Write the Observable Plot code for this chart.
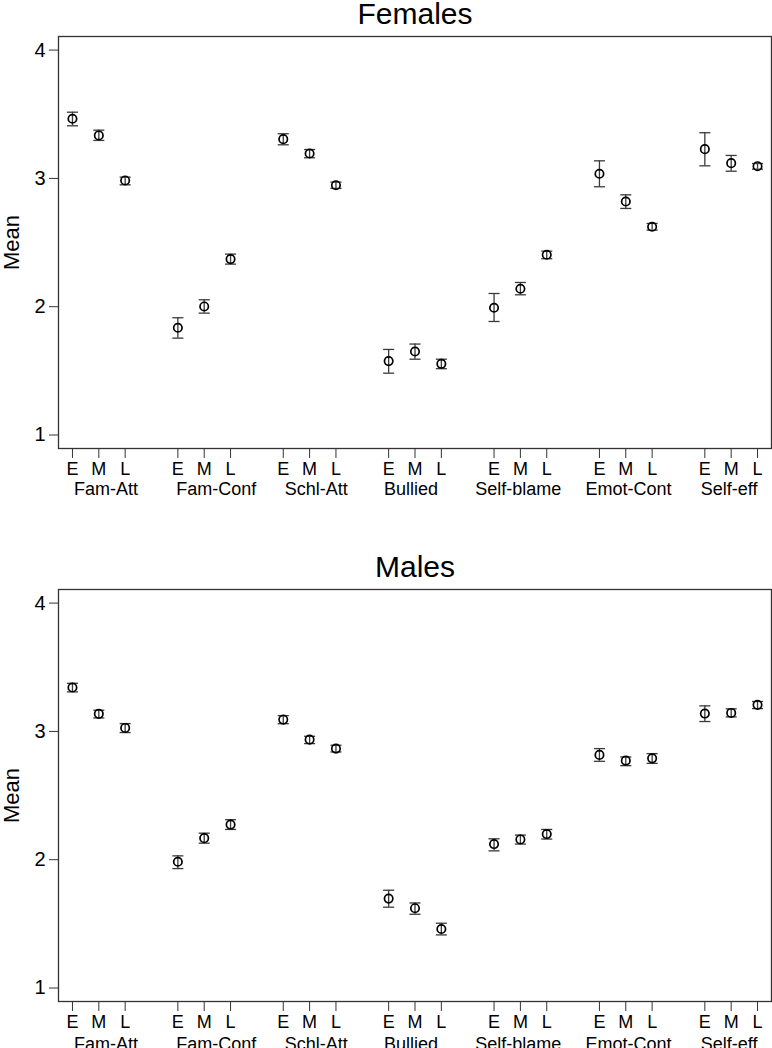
<!DOCTYPE html>
<html><head><meta charset="utf-8">
<script src="https://cdn.jsdelivr.net/npm/d3@7"></script>
<script src="https://cdn.jsdelivr.net/npm/@observablehq/plot@0.6"></script>
<style>
body{margin:0;background:#fff;font-family:"Liberation Sans",Arial,Helvetica,sans-serif;}
#chart{width:772px;height:1048px;overflow:hidden;}
#chart svg{display:block;overflow:visible;}
</style>
</head><body><div id="chart"></div>
<script>
const groups = ["Fam-Att","Fam-Conf","Schl-Att","Bullied","Self-blame","Emot-Cont","Self-eff"];
const stages = ["E","M","L"];
const yTicks = [1,2,3,4];

const femaleMean = [3.465,3.335,2.984, 1.836,2.002,2.371, 3.306,3.194,2.947, 1.576,1.651,1.555, 1.992,2.140,2.405, 3.036,2.820,2.623, 3.228,3.119,3.095];
const femaleLow  = [3.410,3.296,2.950, 1.755,1.950,2.332, 3.262,3.161,2.922, 1.482,1.591,1.517, 1.885,2.093,2.374, 2.935,2.766,2.597, 3.098,3.056,3.072];
const femaleHigh = [3.516,3.376,3.010, 1.914,2.054,2.410, 3.348,3.225,2.971, 1.667,1.709,1.591, 2.103,2.189,2.433, 3.137,2.872,2.649, 3.356,3.179,3.116];

const maleMean = [3.342,3.137,3.027, 1.984,2.168,2.274, 3.092,2.936,2.866, 1.697,1.622,1.460, 2.122,2.158,2.200, 2.817,2.772,2.790, 3.139,3.144,3.207];
const maleLow  = [3.308,3.105,2.991, 1.931,2.129,2.236, 3.060,2.905,2.840, 1.630,1.575,1.414, 2.069,2.122,2.161, 2.767,2.733,2.751, 3.077,3.113,3.178];
const maleHigh = [3.375,3.165,3.061, 2.030,2.207,2.312, 3.123,2.962,2.892, 1.762,1.663,1.505, 2.163,2.192,2.236, 2.866,2.801,2.827, 3.199,3.176,3.233];

// layout: small horizontal nudges of the group labels (in x units), as in the original
const groupLabelNudge = [0.27, 0.46, 0.25, -0.15, -0.08, 0.1, -0.08];

function rowsFor(mean, lo, hi) {
  const rows = [];
  groups.forEach((g, gi) => stages.forEach((s, si) => {
    const i = gi * 3 + si;
    rows.push({x: gi * 4 + si + 1, group: g, stage: s, mean: mean[i], lo: lo[i], hi: hi[i]});
  }));
  return rows;
}
const groupRows = groups.map((g, gi) => ({x: gi * 4 + 2 + groupLabelNudge[gi], label: g}));

function panel(title, rows, marginTop, marginBottom, groupDy) {
  const capHalf = 0.21;
  return Plot.plot({
    width: 772,
    height: 524,
    marginTop,
    marginBottom,
    marginLeft: 58,
    marginRight: 1,
    style: {fontFamily: '"Liberation Sans", Arial, Helvetica, sans-serif', color: "#000", background: "#fff", overflow: "visible"},
    x: {domain: [0.47, 27.53], axis: null},
    y: {domain: [0.895, 4.106], axis: null},
    marks: [
      Plot.ruleX(rows, {x: "x", y1: "lo", y2: "hi", stroke: "#3a3a3a", strokeWidth: 1.3}),
      Plot.link(rows, {x1: d => d.x - capHalf, x2: d => d.x + capHalf, y1: "lo", y2: "lo", stroke: "#3a3a3a", strokeWidth: 1.3}),
      Plot.link(rows, {x1: d => d.x - capHalf, x2: d => d.x + capHalf, y1: "hi", y2: "hi", stroke: "#3a3a3a", strokeWidth: 1.3}),
      Plot.dot(rows, {x: "x", y: "mean", r: 4.2, stroke: "#000", strokeWidth: 1.7, fill: "none"}),
      Plot.frame({stroke: "#333", strokeWidth: 1.3}),
      Plot.axisY({ticks: yTicks, tickFormat: d3.format("d"), tickSize: 9, tickPadding: 4, fontSize: 20, label: null, stroke: "#333"}),
      Plot.axisX({ticks: rows.map(d => d.x), tickFormat: d => stages[(d - 1) % 4], tickSize: 10, tickPadding: 4, fontSize: 18, label: null, stroke: "#333"}),
      Plot.text(groupRows, {x: "x", text: "label", frameAnchor: "bottom", textAnchor: "middle", lineAnchor: "middle", dy: groupDy, fontSize: 18, fill: "#000"}),
      Plot.text([title], {text: d => d, frameAnchor: "top", textAnchor: "middle", lineAnchor: "middle", dy: -22.5, fontSize: 30, fill: "#000"}),
      Plot.text(["Mean"], {text: d => d, frameAnchor: "left", textAnchor: "middle", lineAnchor: "middle", rotate: -90, dx: -47, fontSize: 22, fill: "#000"})
    ]
  });
}

const chart = document.getElementById("chart");
chart.append(panel("Females", rowsFor(femaleMean, femaleLow, femaleHigh), 36, 76, 41));
chart.append(panel("Males", rowsFor(maleMean, maleLow, maleHigh), 65, 47, 43));
</script>
</body></html>
